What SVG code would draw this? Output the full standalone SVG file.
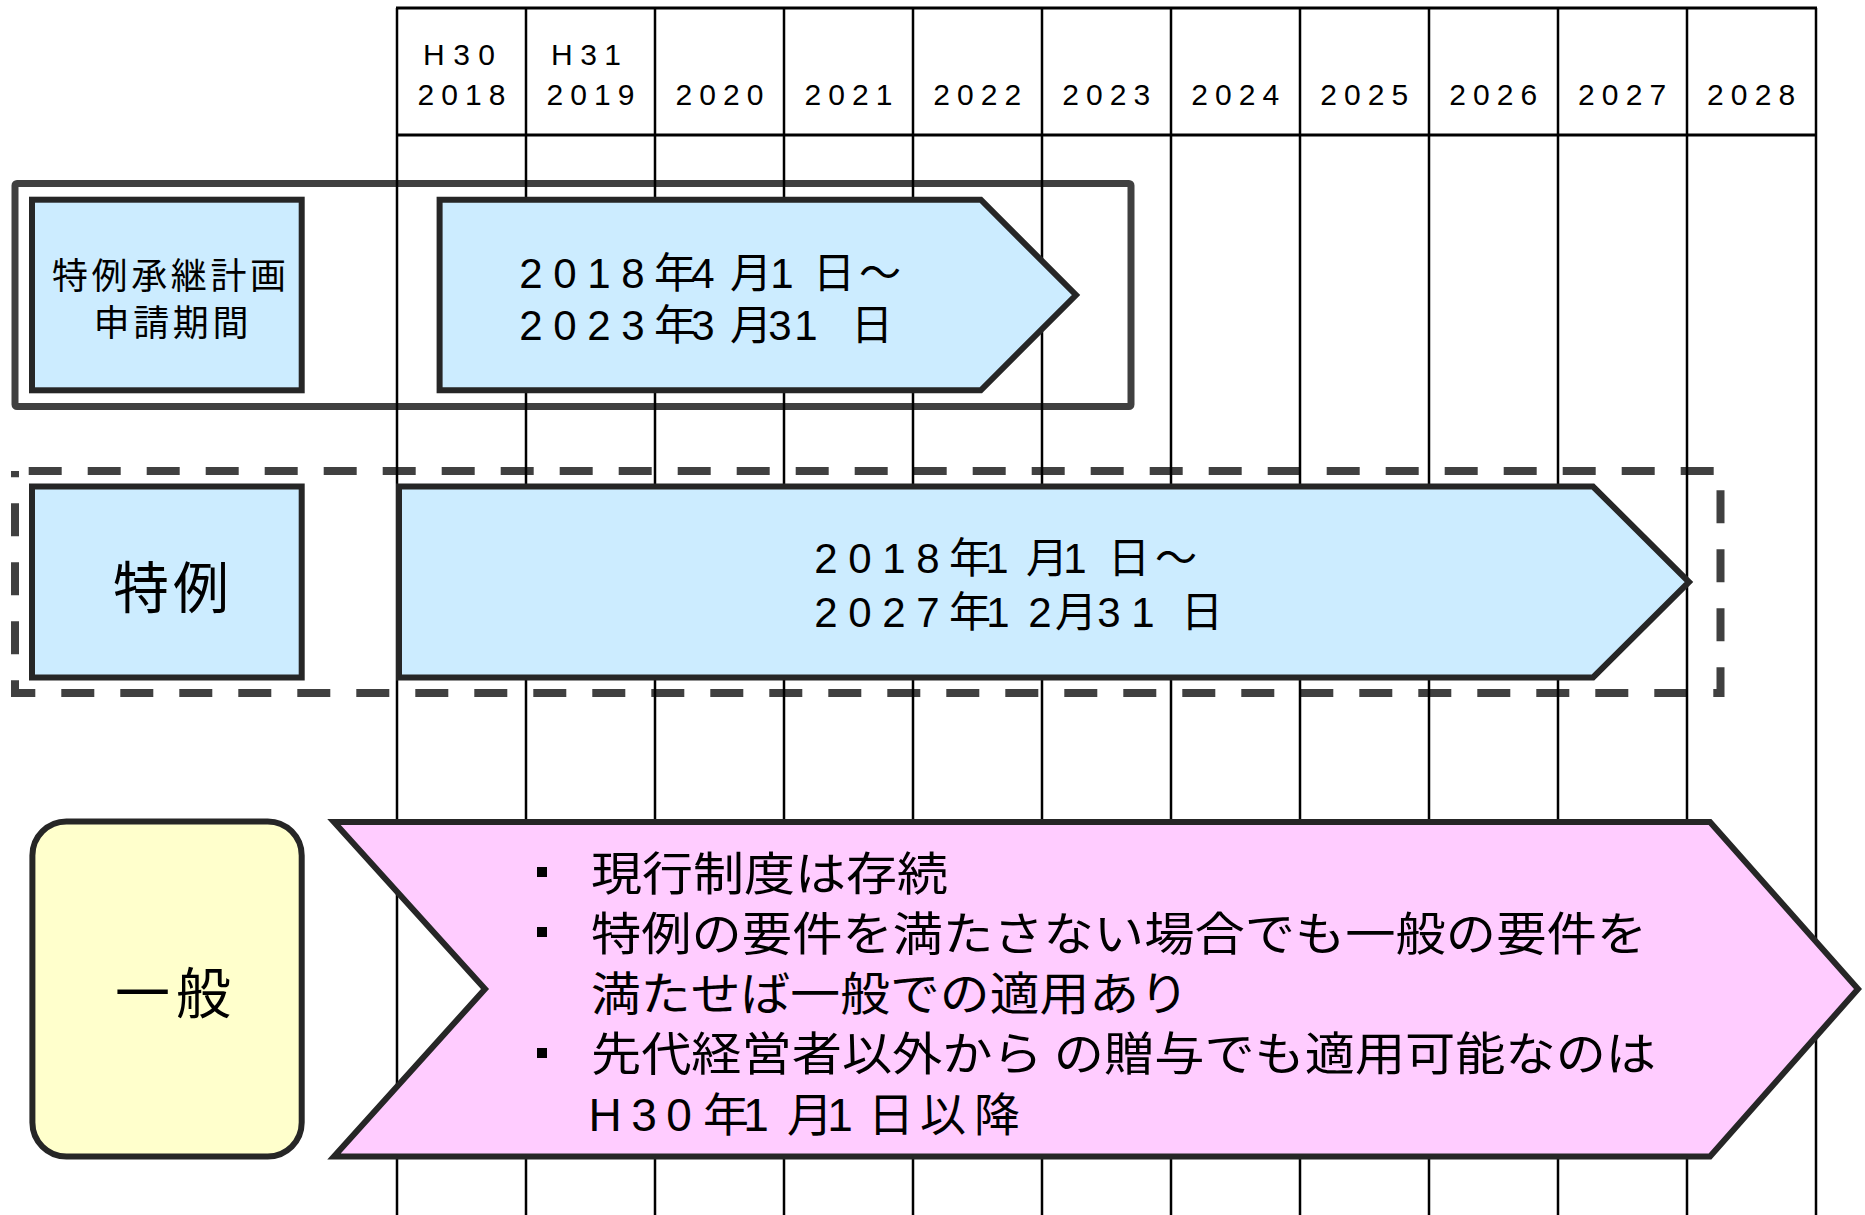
<svg xmlns="http://www.w3.org/2000/svg" width="1865" height="1215" viewBox="0 0 1865 1215">
<style>
.grid line { stroke:#000; stroke-width:2.5; }
.grid .h { stroke-width:3; }
.t { font-family:"Liberation Sans","Noto Sans CJK JP",sans-serif; fill:#000; }
.jp { font-family:"Noto Sans CJK JP","Liberation Sans",sans-serif; fill:#000; }
.yr { font-size:30px; text-anchor:middle; }
.frame { fill:none; stroke:#404040; stroke-width:7; stroke-linejoin:round; }
.dash { fill:none; stroke:#404040; stroke-width:8; stroke-dasharray:33 26; stroke-dashoffset:45.3; }
.box { stroke:#262626; stroke-width:6; stroke-linejoin:miter; }
.blue { fill:#CCECFF; }
.yellow { fill:#FFFFCC; }
.pink { fill:#FFCCFF; }
.date { font-size:42px; text-anchor:middle; }
.body { font-size:46px; }
</style>
<rect width="1865" height="1215" fill="#fff"/>

<g id="containers">
  <rect id="frame-tokurei-keikaku" class="frame" x="15" y="183.5" width="1116" height="223" rx="2"/>
  <rect id="frame-tokurei" class="dash" x="15" y="471" width="1705.5" height="222"/>
</g>

<g id="timeline-grid" class="grid">
  <line class="h" x1="396" y1="8" x2="1817" y2="8"/>
  <line class="h" x1="396" y1="135" x2="1817" y2="135"/>
  <line x1="397" y1="8" x2="397" y2="1215"/>
  <line x1="526" y1="8" x2="526" y2="1215"/>
  <line x1="655" y1="8" x2="655" y2="1215"/>
  <line x1="784" y1="8" x2="784" y2="1215"/>
  <line x1="913" y1="8" x2="913" y2="1215"/>
  <line x1="1042" y1="8" x2="1042" y2="1215"/>
  <line x1="1171" y1="8" x2="1171" y2="1215"/>
  <line x1="1300" y1="8" x2="1300" y2="1215"/>
  <line x1="1429" y1="8" x2="1429" y2="1215"/>
  <line x1="1558" y1="8" x2="1558" y2="1215"/>
  <line x1="1687" y1="8" x2="1687" y2="1215"/>
  <line x1="1816" y1="8" x2="1816" y2="1215"/>
  <g id="year-labels">
    <text class="t yr" x="459" y="65" textLength="72">H30</text>
    <text class="t yr" x="586" y="65" textLength="70">H31</text>
    <text class="t yr" x="461.5" y="105" textLength="88">2018</text>
    <text class="t yr" x="590.4" y="105" textLength="88">2019</text>
    <text class="t yr" x="719.4" y="105" textLength="88">2020</text>
    <text class="t yr" x="848.4" y="105" textLength="88">2021</text>
    <text class="t yr" x="977.3" y="105" textLength="88">2022</text>
    <text class="t yr" x="1106.3" y="105" textLength="88">2023</text>
    <text class="t yr" x="1235.3" y="105" textLength="88">2024</text>
    <text class="t yr" x="1364.2" y="105" textLength="88">2025</text>
    <text class="t yr" x="1493.2" y="105" textLength="88">2026</text>
    <text class="t yr" x="1622.1" y="105" textLength="88">2027</text>
    <text class="t yr" x="1751.1" y="105" textLength="88">2028</text>
  </g>
</g>

<g id="connectors"></g>

<g id="label-keikaku">
  <rect class="box blue" x="32" y="199.7" width="269.7" height="190.6"/>
  <text class="jp" font-size="36" text-anchor="middle" x="169" y="289" textLength="234">特例承継計画</text>
  <text class="jp" font-size="36" text-anchor="middle" x="171" y="336" textLength="155">申請期間</text>
</g>

<g id="period-keikaku">
  <polygon class="box blue" points="439.6,199.7 980.8,199.7 1076,295 980.8,390.3 439.6,390.3"/>
  <text class="t date" x="531 565 599 633 675 703 751 782 834 880" y="288">2018年4月1日～</text>
  <text class="t date" x="531 565 599 633 675 703 751 780 806 872" y="340">2023年3月31日</text>
</g>

<g id="label-tokurei">
  <rect class="box blue" x="32" y="486.5" width="269.7" height="191"/>
  <text class="jp" font-size="56" text-anchor="middle" x="171" y="608" textLength="116">特例</text>
</g>

<g id="period-tokurei">
  <polygon class="box blue" points="399,486.5 1593,486.5 1689,582 1593,677.5 399,677.5"/>
  <text class="t date" x="826 860 894 928 970 997 1047 1075 1129 1176" y="573">2018年1月1日～</text>
  <text class="t date" x="826 860 894 928 970 998 1040 1076 1109 1143 1202" y="627">2027年12月31日</text>
</g>

<g id="label-ippan">
  <rect class="box yellow" x="32.4" y="821.5" width="269.3" height="335" rx="34"/>
  <text class="jp" font-size="55" text-anchor="middle" x="173" y="1013" textLength="116">一般</text>
</g>

<g id="period-ippan">
  <polygon class="box pink" points="334,822 1710,822 1858,989 1710,1156.5 334,1156.5 485,989"/>
  <rect x="537" y="867" width="10" height="10" fill="#000"/>
  <rect x="537" y="927" width="10" height="10" fill="#000"/>
  <rect x="537" y="1048" width="10" height="10" fill="#000"/>
  <text class="jp body" x="591" y="890" textLength="357" lengthAdjust="spacingAndGlyphs">現行制度は存続</text>
  <text class="jp body" x="591" y="950" textLength="1056" lengthAdjust="spacingAndGlyphs">特例の要件を満たさない場合でも一般の要件を</text>
  <text class="jp body" x="591" y="1010" textLength="598" lengthAdjust="spacingAndGlyphs">満たせば一般での適用あり</text>
  <text class="jp body" x="591" y="1070" textLength="1065" lengthAdjust="spacingAndGlyphs">先代経営者以外から の贈与でも適用可能なのは</text>
  <text class="t body" text-anchor="middle" x="605 644 679 726 756 810 840 891 943 997" y="1131">H30年1月1日以降</text>
</g>
</svg>
